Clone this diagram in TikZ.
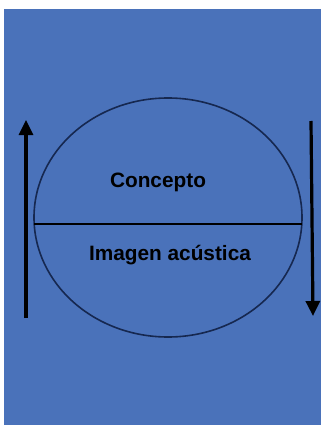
\documentclass[tikz,border=0pt]{standalone}
\usepackage{fontspec}
\setmainfont{Liberation Sans}
\usetikzlibrary{arrows.meta}
\definecolor{bgblue}{RGB}{74,114,186}
\definecolor{navy}{RGB}{22,40,80}
\tikzset{
  label text/.style={font=\fontsize{20.8}{24}\selectfont\bfseries, text=black, inner sep=0pt, anchor=base},
  bigarrow/.style={line width=3.2pt, draw=black, -{Triangle[length=15pt,width=14pt]}},
}
\begin{document}
\begin{tikzpicture}[x=1pt,y=-1pt]
\useasboundingbox (0,0) rectangle (321,425);
\fill[bgblue] (4,9) rectangle (321,425);
\draw[navy, line width=1.6pt] (168,217.5) ellipse [x radius=134, y radius=119.5];
\coordinate (L) at (34,224);
\coordinate (R) at (302,224);
\draw[black, line width=1.6pt] (L) -- (R);
\node[label text] (concepto) at (158,187) {Concepto};
\node[label text] (imagen) at (170,260) {Imagen acústica};
\coordinate (a1s) at (26,318);
\coordinate (a1e) at (26,120);
\coordinate (a2s) at (311,121);
\coordinate (a2e) at (313,316);
\draw[bigarrow] (a1s) -- (a1e);
\draw[bigarrow] (a2s) -- (a2e);
\end{tikzpicture}
\end{document}
